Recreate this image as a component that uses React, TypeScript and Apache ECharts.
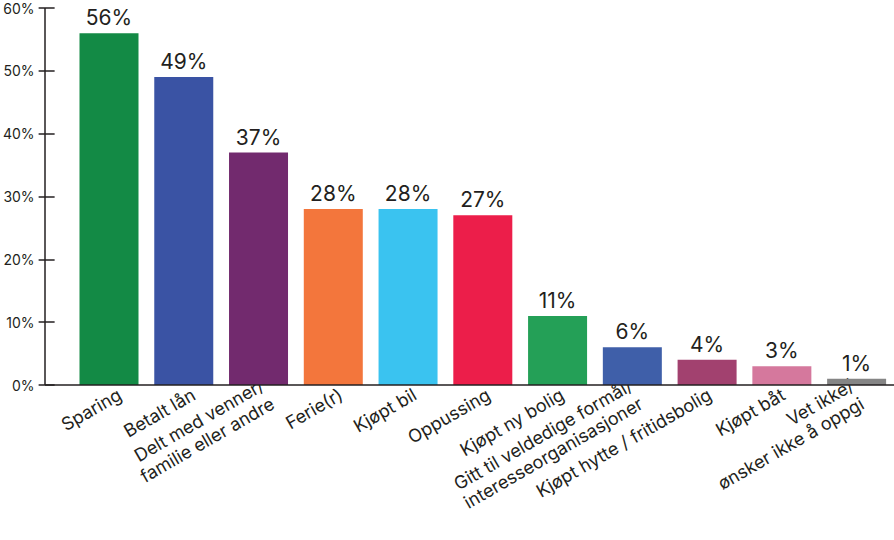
import React, { useEffect, useRef } from "react";
import * as echarts from "echarts";

const categories = [
  "Sparing",
  "Betalt lån",
  "Delt med venner/\nfamilie eller andre",
  "Ferie(r)",
  "Kjøpt bil",
  "Oppussing",
  "Kjøpt ny bolig",
  "Gitt til veldedige formål/\ninteresseorganisasjoner",
  "Kjøpt hytte / fritidsbolig",
  "Kjøpt båt",
  "Vet ikke/\nønsker ikke å oppgi",
];
const values = [56, 49, 37, 28, 28, 27, 11, 6, 4, 3, 1];
const barColors = [
  "#138a45",
  "#3a53a4",
  "#722a6e",
  "#f3763c",
  "#3ac3f0",
  "#ec1e4a",
  "#24a057",
  "#3f5fa9",
  "#a2416f",
  "#d5789d",
  "#858585",
];
const yMin = 0;
const yMax = 60;
const yInterval = 10;

const FONT = "Inter";
const TEXT = "#231f20";

export default function App() {
  const ref = useRef<HTMLDivElement>(null);
  useEffect(() => {
    if (!ref.current) return;
    const chart = echarts.init(ref.current, null, { renderer: "svg" });
    const gridLeft = 70;
    const gridTop = 8;
    const gridHeight = 377;
    const labelShift = 13;
    const axisX = 45;
    chart.setOption({
      animation: false,
      grid: [
        { left: gridLeft, right: 0, top: gridTop, height: gridHeight },
        { left: gridLeft + labelShift, right: -labelShift, top: gridTop, height: gridHeight },
      ],
      graphic: [
        {
          type: "line",
          z: 10,
          shape: { x1: axisX, y1: gridTop + gridHeight, x2: 894, y2: gridTop + gridHeight },
          style: { stroke: TEXT, lineWidth: 1.5 },
        },
        {
          type: "line",
          z: 10,
          shape: { x1: axisX, y1: gridTop, x2: axisX, y2: gridTop + gridHeight },
          style: { stroke: TEXT, lineWidth: 1.5 },
        },
      ],
      xAxis: [
        {
          type: "category",
          gridIndex: 0,
          data: categories,
          axisLine: { show: false },
          axisTick: { show: false },
          axisLabel: { show: false },
        },
        {
          type: "category",
          gridIndex: 1,
          data: categories,
          axisLine: { show: false },
          axisTick: { show: false },
          axisLabel: {
            rotate: 30,
            interval: 0,
            margin: 8,
            fontFamily: FONT,
            fontSize: 18,
            lineHeight: 21,
            color: TEXT,
            align: "right",
          },
        },
      ],
      yAxis: [
        {
          type: "value",
          gridIndex: 0,
          position: "left",
          min: yMin,
          max: yMax,
          interval: yInterval,
          offset: gridLeft - axisX - 8,
          splitLine: { show: false },
          axisLine: { show: false },
          axisTick: { show: true, length: 16, lineStyle: { color: TEXT, width: 1.5 } },
          axisLabel: {
            formatter: "{value}%",
            fontFamily: FONT,
            fontSize: 14,
            color: TEXT,
            margin: 20,
          },
        },
        {
          type: "value",
          gridIndex: 1,
          min: yMin,
          max: yMax,
          interval: yInterval,
          show: false,
        },
      ],
      series: [
        {
          type: "bar",
          xAxisIndex: 0,
          yAxisIndex: 0,
          barWidth: 59,
          data: values.map((v, i) => ({ value: v, itemStyle: { color: barColors[i] } })),
          label: {
            show: true,
            position: "top",
            distance: 5,
            formatter: "{c}%",
            fontFamily: FONT,
            fontSize: 21,
            color: TEXT,
          },
        },
        {
          type: "bar",
          xAxisIndex: 1,
          yAxisIndex: 1,
          data: [],
        },
      ],
    });
    return () => chart.dispose();
  }, []);
  return (
    <div
      ref={ref}
      style={{ position: "fixed", left: 0, top: 0, width: 894, height: 540, background: "#fff" }}
    />
  );
}
